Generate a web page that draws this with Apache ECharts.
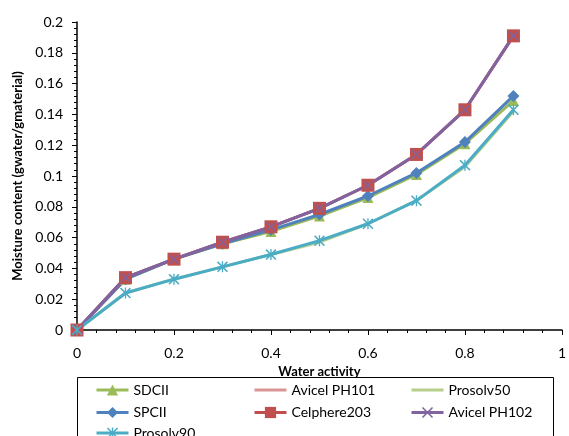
<!DOCTYPE html>
<html>
<head>
<meta charset="utf-8">
<script src="https://cdn.jsdelivr.net/npm/echarts@6/dist/echarts.min.js"></script>
<style>
  html, body { margin: 0; padding: 0; background: #fff; }
  #chart { width: 569px; height: 436px; }
</style>
</head>
<body>
<div id="chart"></div>
<script>
// water activity (x) and moisture content per material
const waterActivity = [0, 0.1, 0.2, 0.3, 0.4, 0.5, 0.6, 0.7, 0.8, 0.9];
const sdcii      = [0, 0.033, 0.046, 0.056, 0.064, 0.074, 0.086, 0.101, 0.121, 0.149];
const avicel101  = [0, 0.034, 0.046, 0.057, 0.067, 0.079, 0.094, 0.114, 0.143, 0.191];
const prosolv50  = [0, 0.024, 0.033, 0.041, 0.049, 0.057, 0.069, 0.084, 0.106, 0.142];
const spcii      = [0, 0.033, 0.046, 0.056, 0.065, 0.075, 0.087, 0.102, 0.122, 0.152];
const celphere   = [0, 0.034, 0.046, 0.057, 0.067, 0.079, 0.094, 0.114, 0.143, 0.191];
const avicel102  = [0, 0.034, 0.046, 0.057, 0.067, 0.079, 0.094, 0.114, 0.143, 0.191];
const prosolv90  = [0, 0.024, 0.033, 0.041, 0.049, 0.058, 0.069, 0.084, 0.107, 0.143];

const FONT = 'Lato';
const pairs = (ys) => waterActivity.map((x, i) => [x, ys[i]]);

const xSym = 'path://M0,1L1,0L5,4L9,0L10,1L6,5L10,9L9,10L5,6L1,10L0,9L4,5Z';
const starSym = 'path://M0,1L1,0L5,4L9,0L10,1L6,5L10,9L9,10L5,6L1,10L0,9L4,5Z M4.4,0L5.6,0L5.6,10L4.4,10Z';

function mk(name, data, color, symbol, size) {
  return {
    name, type: 'line', data: pairs(data),
    symbol: symbol || 'none', symbolSize: size || 8,
    showSymbol: !!symbol,
    lineStyle: { color, width: 3 },
    itemStyle: { color },
    emphasis: { disabled: true },
    animation: false,
  };
}

const chart = echarts.init(document.getElementById('chart'));

// one legend per entry, laid out like the 3-column box in the reference
const legendSlots = [
  ['SDCII', 95, 383], ['Avicel PH101', 253, 383], ['Prosolv50', 410, 383],
  ['SPCII', 95, 405.5], ['Celphere203', 253, 405.5], ['Avicel PH102', 410, 405.5],
  ['Prosolv90', 95, 426],
];
const noMarker = ['Avicel PH101', 'Prosolv50'];

const legends = legendSlots.map(([name, left, top]) => ({
  left, top, itemWidth: 32, itemHeight: 14, padding: 0,
  selectedMode: false,
  lineStyle: { width: 3 },
  textStyle: { fontFamily: FONT, fontSize: 14, color: '#000' },
  data: [noMarker.includes(name) ? { name, itemStyle: { opacity: 0 } } : name],
}));

chart.setOption({
  backgroundColor: '#fff',
  textStyle: { fontFamily: FONT },
  grid: { left: 77, right: 1, top: 22, bottom: 106 },
  xAxis: {
    type: 'value', min: 0, max: 1, interval: 0.2,
    name: 'Water activity', nameLocation: 'middle', nameGap: 34,
    nameTextStyle: { fontFamily: FONT, fontSize: 13, fontWeight: 'bold', color: '#000' },
    axisLine: { lineStyle: { color: '#000', width: 1.5 } },
    axisTick: { show: true, length: 5, lineStyle: { color: '#000' } },
    minorTick: { show: true, splitNumber: 5, length: 3, lineStyle: { color: '#000' } },
    axisLabel: { color: '#000', fontSize: 14, margin: 16, fontFamily: FONT,
      showMaxLabel: true, formatter: v => String(+v.toFixed(1)) },
    splitLine: { show: false },
  },
  yAxis: {
    type: 'value', min: 0, max: 0.2, interval: 0.02,
    name: 'Moisture content (gwater/gmaterial)', nameLocation: 'middle', nameGap: 51,
    nameTextStyle: { fontFamily: FONT, fontSize: 13, fontWeight: 'bold', color: '#000' },
    axisLine: { show: true, lineStyle: { color: '#000', width: 1.5 } },
    axisTick: { show: true, length: 5, lineStyle: { color: '#000' } },
    minorTick: { show: true, splitNumber: 5, length: 3, lineStyle: { color: '#000' } },
    axisLabel: { color: '#000', fontSize: 14, margin: 14, fontFamily: FONT,
      formatter: v => String(+v.toFixed(2)) },
    splitLine: { show: false },
  },
  legend: legends,
  graphic: [{
    type: 'rect', shape: { x: 77.5, y: 377.5, width: 476, height: 70 },
    style: { fill: 'none', stroke: '#000', lineWidth: 1 }, z: 100,
  }],
  series: [
    mk('SDCII', sdcii, '#9BBB59', 'triangle', 11),
    mk('Avicel PH101', avicel101, '#D99694', null),
    mk('Prosolv50', prosolv50, '#B7CF8A', null),
    mk('SPCII', spcii, '#4F81BD', 'diamond', 12),
    mk('Celphere203', celphere, '#C0504D', 'rect', 13),
    mk('Avicel PH102', avicel102, '#8064A2', xSym, 10),
    mk('Prosolv90', prosolv90, '#4BACC6', starSym, 11),
  ],
});
</script>
</body>
</html>
